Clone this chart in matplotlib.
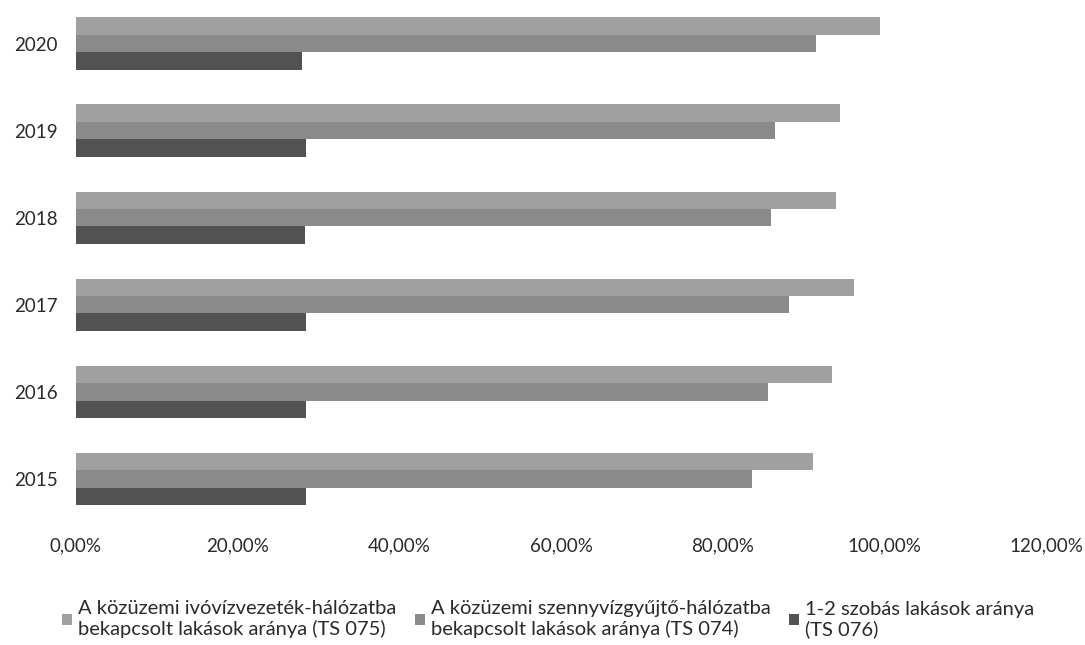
import matplotlib
matplotlib.use("Agg")
import matplotlib.pyplot as plt
import numpy as np
from matplotlib.ticker import FuncFormatter, MultipleLocator

plt.rcParams["font.family"] = ["Lato", "DejaVu Sans"]

years = ["2015", "2016", "2017", "2018", "2019", "2020"]
ivoviz = [91.2, 93.5, 96.3, 94.0, 94.5, 99.5]
szennyviz = [83.6, 85.6, 88.2, 86.0, 86.5, 91.6]
szobas = [28.5, 28.5, 28.4, 28.3, 28.4, 28.0]

labels = [
    "A közüzemi ivóvízvezeték-hálózatba\nbekapcsolt lakások aránya (TS 075)",
    "A közüzemi szennyvízgyűjtő-hálózatba\nbekapcsolt lakások aránya (TS 074)",
    "1-2 szobás lakások aránya\n(TS 076)",
]
colors = ["#a0a0a0", "#8a8a8a", "#525252"]

fig = plt.figure(figsize=(10.85, 6.45), dpi=100)
ax = fig.add_axes([0.070, 0.19, 0.894, 0.81])

y = np.arange(len(years))
h = 0.2
series = [ivoviz, szennyviz, szobas]
offsets = [h, 0, -h]
handles = []
for vals, off, col, lab in zip(series, offsets, colors, labels):
    b = ax.barh(y + off, np.array(vals) / 100, height=h, color=col, label=lab)
    handles.append(b)

ax.set_yticks(y)
ax.set_yticklabels(years)
ax.set_ylim(-0.5, len(years) - 0.5)
ax.set_xlim(0, 1.2)
ax.xaxis.set_major_locator(MultipleLocator(0.2))
ax.xaxis.set_major_formatter(FuncFormatter(lambda v, p: f"{v * 100:.2f}%".replace(".", ",")))
ax.tick_params(axis="both", length=0, labelsize=13.5, colors="#2a2a2a")
ax.tick_params(axis="x", pad=11)
ax.tick_params(axis="y", pad=13)
for s in ax.spines.values():
    s.set_visible(False)

fig.legend(handles, labels, loc="lower center", bbox_to_anchor=(0.505, -0.018),
           ncol=3, frameon=False, fontsize=14.5, handlelength=0.5, handleheight=0.5,
           handletextpad=0.3, columnspacing=0.9, labelcolor="#2a2a2a")

fig.savefig("out.png", dpi=100)
